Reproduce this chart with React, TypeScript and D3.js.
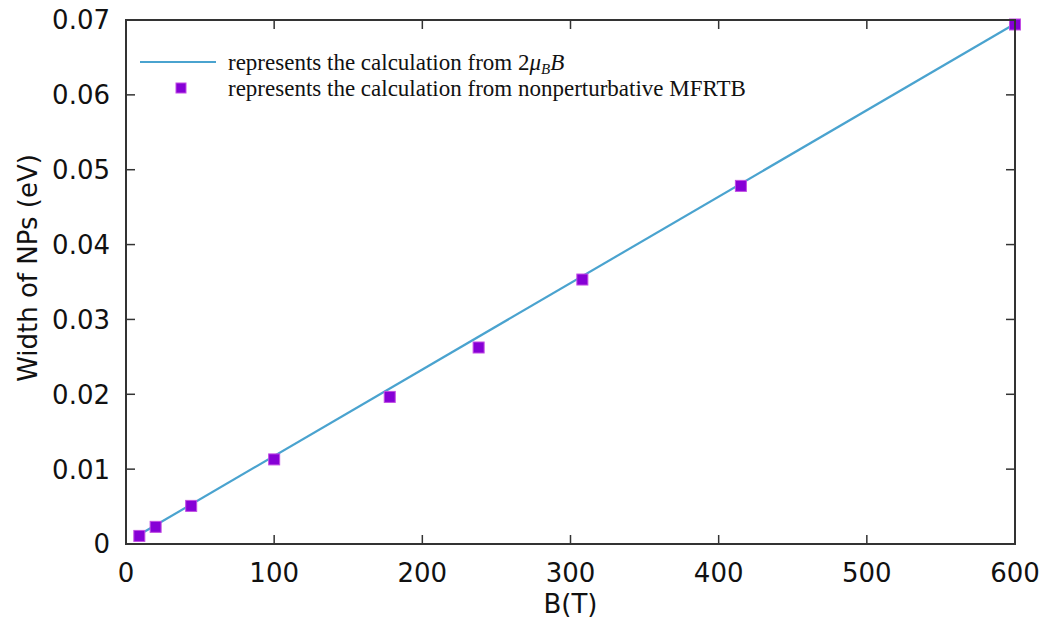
import * as d3 from "d3";

const W = 1053;
const H = 625;
const MARGIN = { top: 20, right: 38, bottom: 81, left: 126 };

// points from nonperturbative MFRTB (B in T, width in eV)
const fieldB = [9, 20, 44, 100, 178, 238, 308, 415, 600];
const widthEv = [0.00108, 0.00229, 0.00509, 0.0113, 0.01965, 0.02625, 0.03533, 0.04784, 0.0694];

// 2 muB B line, endpoints
const lineB = [6, 600];
const lineEv = [0.0009, 0.0695];

const xTicks = [0, 100, 200, 300, 400, 500, 600];
const yTicks = [0, 0.01, 0.02, 0.03, 0.04, 0.05, 0.06, 0.07];

const LINE_COLOR = "#4aa3cf";
const MARK_FILL = "#8600d6";
const MARK_STROKE = "#c24de4";
const FRAME = "#333";

export default function App() {
  const boundsW = W - MARGIN.left - MARGIN.right;
  const boundsH = H - MARGIN.top - MARGIN.bottom;

  const x = d3.scaleLinear().domain([0, 600]).range([0, boundsW]);
  const y = d3.scaleLinear().domain([0, 0.07]).range([boundsH, 0]);

  const linePath = d3
    .line<number>()
    .x((d) => x(d))
    .y((_, i) => y(lineEv[i]))(lineB);

  const tickLen = 9;
  const sans = "'DejaVu Sans', sans-serif";
  const serif = "'Liberation Serif', 'Times New Roman', serif";

  return (
    <svg
      width={W}
      height={H}
      style={{ position: "absolute", left: 0, top: 0, background: "#fff" }}
    >
      <g transform={`translate(${MARGIN.left},${MARGIN.top})`}>
        {/* ticks, mirrored on all four sides */}
        {xTicks.map((t) => (
          <g key={"x" + t} stroke={FRAME} strokeWidth={1.5}>
            <line x1={x(t)} x2={x(t)} y1={boundsH} y2={boundsH - tickLen} />
            <line x1={x(t)} x2={x(t)} y1={0} y2={tickLen} />
          </g>
        ))}
        {yTicks.map((t) => (
          <g key={"y" + t} stroke={FRAME} strokeWidth={1.5}>
            <line x1={0} x2={tickLen} y1={y(t)} y2={y(t)} />
            <line x1={boundsW} x2={boundsW - tickLen} y1={y(t)} y2={y(t)} />
          </g>
        ))}

        <path d={linePath || ""} fill="none" stroke={LINE_COLOR} strokeWidth={2.2} />

        {fieldB.map((b, i) => (
          <rect
            key={i}
            x={x(b) - 5.5}
            y={y(widthEv[i]) - 5.5}
            width={11}
            height={11}
            fill={MARK_FILL}
            stroke={MARK_STROKE}
            strokeWidth={1}
          />
        ))}

        <rect
          x={0}
          y={0}
          width={boundsW}
          height={boundsH}
          fill="none"
          stroke={FRAME}
          strokeWidth={2}
        />

        {xTicks.map((t) => (
          <text
            key={"xl" + t}
            x={x(t)}
            y={boundsH + 38}
            textAnchor="middle"
            fontFamily={sans}
            fontSize={26}
            fill="#111"
          >
            {t}
          </text>
        ))}
        {yTicks.map((t) => (
          <text
            key={"yl" + t}
            x={-16}
            y={y(t)}
            dy="0.36em"
            textAnchor="end"
            fontFamily={sans}
            fontSize={26}
            fill="#111"
          >
            {t === 0 ? "0" : d3.format(".2f")(t)}
          </text>
        ))}

        {/* legend */}
        <g fontFamily={serif} fontSize={23} fill="#111">
          <line x1={14} x2={90} y1={42} y2={42} stroke={LINE_COLOR} strokeWidth={2} />
          <text x={102} y={42} dy="0.33em">
            represents the calculation from 2
            <tspan fontStyle="italic">μ</tspan>
            <tspan fontStyle="italic" fontSize={15} dy={4}>B</tspan>
            <tspan fontStyle="italic" dy={-4}>B</tspan>
          </text>
          <rect x={50} y={63} width={10} height={10} fill={MARK_FILL} stroke={MARK_STROKE} />
          <text x={102} y={68} dy="0.33em">
            represents the calculation from nonperturbative MFRTB
          </text>
        </g>
      </g>

      <text
        x={(MARGIN.left + W - MARGIN.right) / 2}
        y={613}
        textAnchor="middle"
        fontFamily={sans}
        fontSize={26}
        fill="#111"
      >
        B(T)
      </text>
      <text
        transform="translate(37,268) rotate(-90)"
        textAnchor="middle"
        fontFamily={sans}
        fontSize={26}
        fill="#111"
      >
        Width of NPs (eV)
      </text>
    </svg>
  );
}
